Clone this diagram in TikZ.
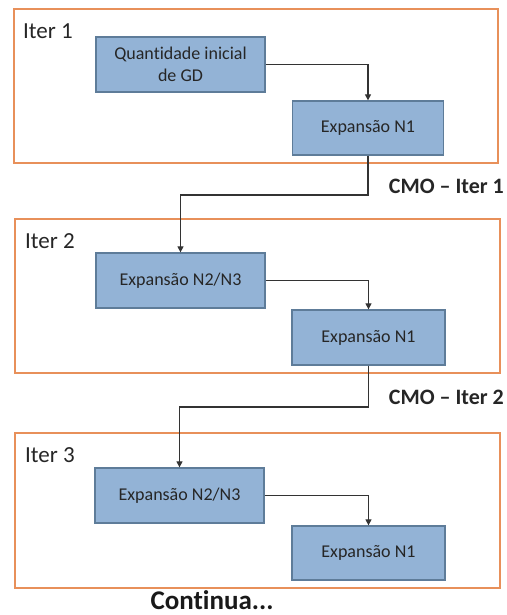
\documentclass[tikz,border=0pt]{standalone}
\usepackage{fontspec}
\setmainfont{Carlito}[Ligatures=CommonOff]
\usetikzlibrary{arrows.meta}
\definecolor{frameorange}{HTML}{E8905A}
\definecolor{boxfill}{HTML}{93B3D6}
\definecolor{boxline}{HTML}{5E7C99}
\definecolor{linegray}{HTML}{333333}
\begin{document}
\begin{tikzpicture}[x=1pt,y=-1pt,
  frame/.style={draw=frameorange,line width=2pt,rectangle,inner sep=0pt},
  stepbox/.style={draw=boxline,fill=boxfill,line width=1.3pt,rectangle,inner sep=0pt,
    align=center,font=\fontsize{18}{22}\selectfont,text=black!85},
  iterlabel/.style={anchor=west,inner sep=0pt,font=\fontsize{23}{26}\selectfont,text=black!85},
  cmolabel/.style={anchor=east,inner sep=0pt,font=\bfseries\fontsize{22}{26}\selectfont,text=black!85},
  conn/.style={draw=linegray,line width=1.2pt,-{Triangle[length=6pt,width=6pt]}}
]
\useasboundingbox[fill=white] (0,0) rectangle (506,615);
% frames
\node[frame,minimum width=484pt,minimum height=154pt] (f1) at (256,86) {};
\node[frame,minimum width=485pt,minimum height=154pt] (f2) at (257.5,296) {};
\node[frame,minimum width=485pt,minimum height=155pt] (f3) at (257.5,510.5) {};
\node[iterlabel] (l1) at (23,31) {Iter 1};
\node[iterlabel] (l2) at (25,241) {Iter 2};
\node[iterlabel] (l3) at (25,455) {Iter 3};
% boxes
\node[stepbox,minimum width=169pt,minimum height=55pt] (q) at (180.5,64.5) {Quantidade inicial\\de GD};
\node[stepbox,minimum width=151pt,minimum height=54pt] (n11) at (368,128) {Expansão N1};
\node[stepbox,minimum width=169pt,minimum height=55pt] (n2a) at (180.5,280.5) {Expansão N2/N3};
\node[stepbox,minimum width=153pt,minimum height=55pt] (n12) at (368.5,337.5) {Expansão N1};
\node[stepbox,minimum width=169pt,minimum height=55pt] (n2b) at (179.5,495.5) {Expansão N2/N3};
\node[stepbox,minimum width=153pt,minimum height=54pt] (n13) at (368.5,553) {Expansão N1};
% labels
\node[cmolabel] (c1l) at (504,186) {CMO – Iter 1};
\node[cmolabel] (c2l) at (504,397) {CMO – Iter 2};
\node[anchor=base,inner sep=0pt,font=\bfseries\fontsize{27}{30}\selectfont,text=black!90] (cont) at (212,609) {Continua...};
% connectors
\coordinate (k1) at (300,195);
\coordinate (k2) at (300,407);
\draw[conn] (q.east) -| (n11.north);
\draw[conn] (n11.south) |- (k1) -| (n2a.north);
\draw[conn] (n2a.east) -| (n12.north);
\draw[conn] (n12.south) |- (k2) -| (n2b.north);
\draw[conn] (n2b.east) -| (n13.north);
\end{tikzpicture}
\end{document}
